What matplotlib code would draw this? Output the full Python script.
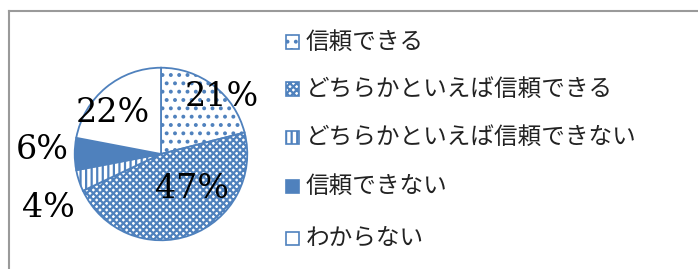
import matplotlib
matplotlib.use("Agg")
import matplotlib.pyplot as plt
from matplotlib.patches import Rectangle
from matplotlib.lines import Line2D

categories = ["信頼できる", "どちらかといえば信頼できる", "どちらかといえば信頼できない", "信頼できない", "わからない"]
values = [21, 47, 4, 6, 22]
labels = ["21%", "47%", "4%", "6%", "22%"]

BLUE = "#4F81BD"
faces = ["white", "white", "white", BLUE, "white"]
hatches = ["..", "xxxxx", "|||", None, None]
label_pos = [(0.70, 0.66), (0.36, -0.41), (-1.30, -0.625), (-1.375, 0.045), (-0.56, 0.47)]

plt.rcParams["hatch.color"] = BLUE
plt.rcParams["hatch.linewidth"] = 1.6

W, H = 698, 269
fig = plt.figure(figsize=(W / 100, H / 100), dpi=100)

# frame (top and left lines visible)
fig.add_artist(Line2D([9 / W, 9 / W], [0, 1 - 11 / H], transform=fig.transFigure, color="#9a9a9a", lw=1.5))
fig.add_artist(Line2D([9 / W, 1], [1 - 11 / H, 1 - 11 / H], transform=fig.transFigure, color="#9a9a9a", lw=1.5))

cx, cy, r = 161, 154, 88
ax = fig.add_axes([(cx - r) / W, (H - cy - r) / H, 2 * r / W, 2 * r / H])
wedges, _ = ax.pie(values, startangle=90, counterclock=False, colors=faces,
                   wedgeprops=dict(edgecolor=BLUE, linewidth=1.3))
for w, h in zip(wedges, hatches):
    if h:
        w.set_hatch(h)
ax.set_xlim(-1.02, 1.02)
ax.set_ylim(-1.02, 1.02)
ax.set_aspect("equal")
ax.axis("off")

for lab, (x, y) in zip(labels, label_pos):
    ax.text(x, y, lab, ha="center", va="center", fontsize=24, family="DejaVu Serif", color="black")

# legend
rows_y = [42, 89, 137, 186, 238]
sq = 13
for cat, fc, h, yy in zip(categories, faces, hatches, rows_y):
    rect = Rectangle(((292 - sq / 2) / W, 1 - (yy + sq / 2) / H), sq / W, sq / H,
                     transform=fig.transFigure, facecolor=fc, edgecolor=BLUE, lw=1.2, hatch=h)
    fig.add_artist(rect)
    fig.text(306 / W, 1 - yy / H, cat, ha="left", va="center", fontsize=17,
             family=["Noto Sans CJK JP", "DejaVu Sans"], color="#222222")

fig.savefig("out.png", dpi=100)
